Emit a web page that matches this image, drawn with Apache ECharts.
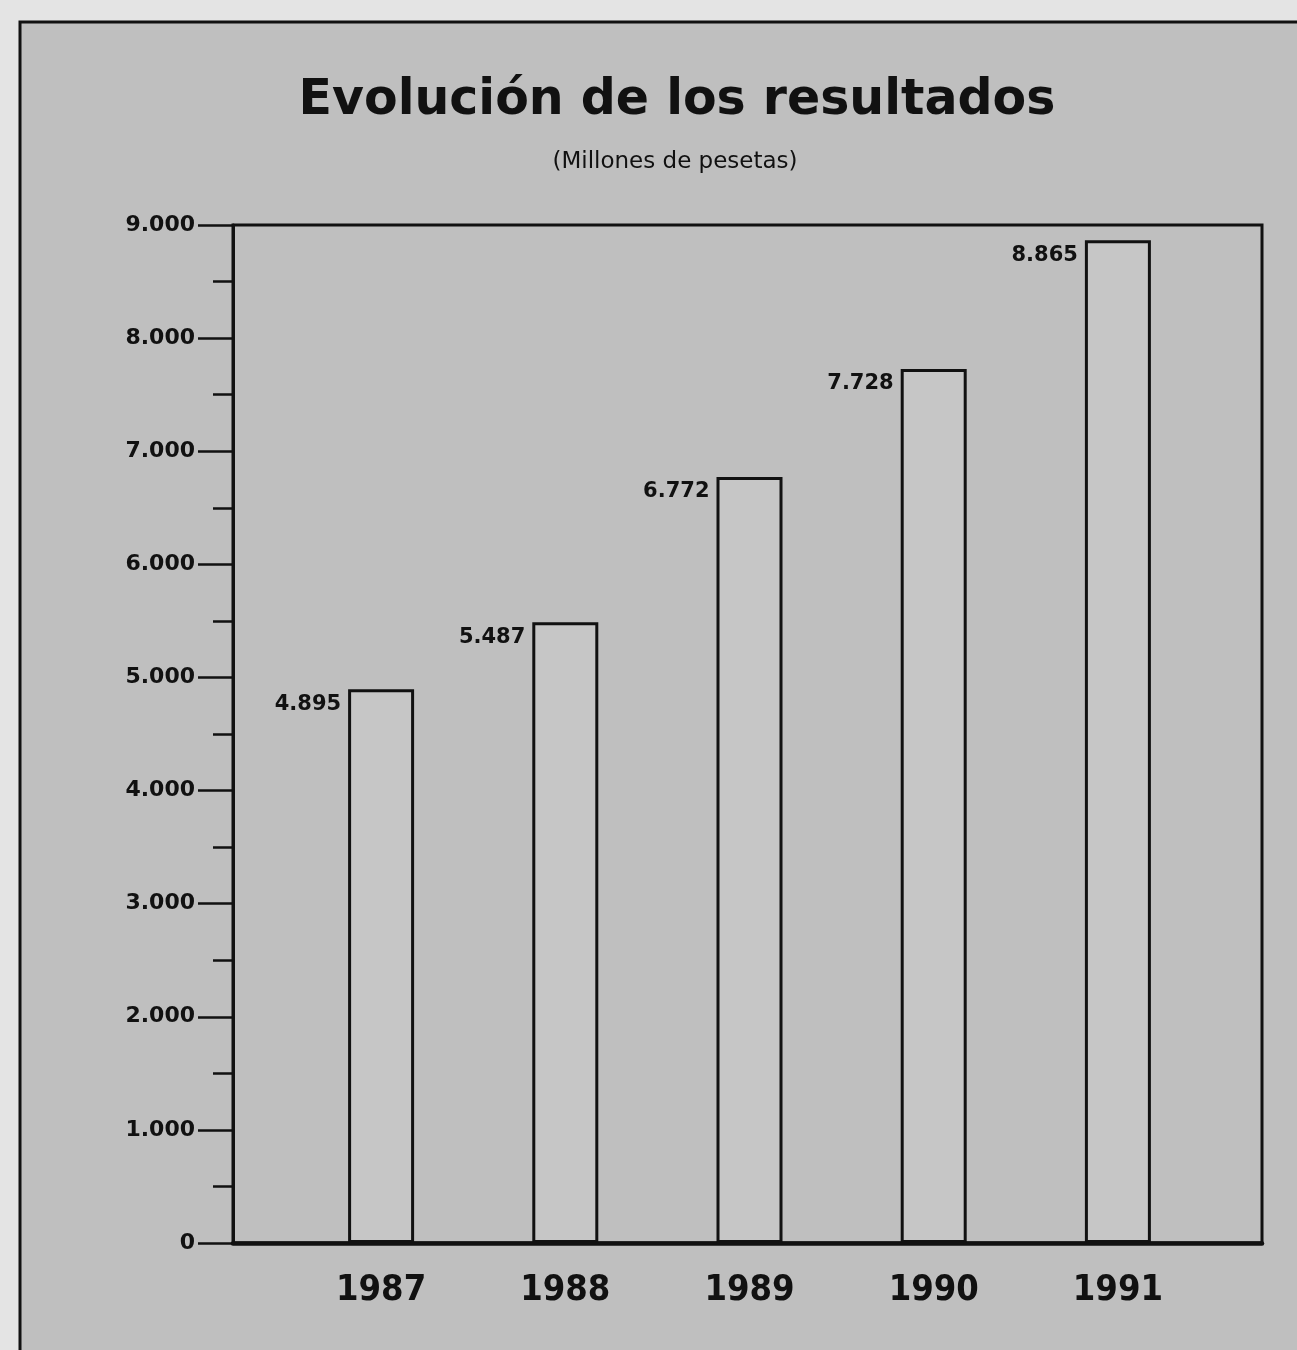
<!DOCTYPE html>
<html>
<head>
<meta charset="utf-8">
<title>Evolución de los resultados</title>
<script src="https://cdn.jsdelivr.net/npm/echarts@6/dist/echarts.min.js"></script>
<style>
  html, body { margin: 0; padding: 0; background: #e4e4e4; }
  #chart { width: 1297px; height: 1350px; }
</style>
</head>
<body>
<div id="chart"></div>
<script>
// data
const years = ['1987', '1988', '1989', '1990', '1991'];
const resultados = [4895, 5487, 6772, 7728, 8865];
const yTicks = [0, 9000, 1000]; // min, max, step

const titleText = 'Evolución de los resultados';
const subtitleText = '(Millones de pesetas)';

// spanish thousands separator
const fmt = v => {
  if (v < 1000) return String(v);
  const rest = String(v % 1000).padStart(3, '0');
  return Math.floor(v / 1000) + '.' + rest;
};

const ink = '#111';
const paper = '#bfbfbf';
const font = '"DejaVu Sans", sans-serif';

const chart = echarts.init(document.getElementById('chart'));

chart.setOption({
  backgroundColor: '#e4e4e4',
  animation: false,
  graphic: [
    {
      // outer frame of the box
      type: 'rect',
      z: -10,
      silent: true,
      shape: { x: 20, y: 22, width: 1320, height: 1360 },
      style: { fill: paper, stroke: ink, lineWidth: 3 }
    }
  ],
  title: [
    {
      text: titleText,
      left: 672,
      top: 72,
      textAlign: 'center',
      textStyle: { fontFamily: font, fontWeight: 'bold', fontSize: 49, color: ink }
    },
    {
      text: subtitleText,
      left: 670,
      top: 146,
      textAlign: 'center',
      textStyle: { fontFamily: font, fontWeight: 'normal', fontSize: 23, color: ink }
    }
  ],
  grid: [
    // the plot box with the value scale
    { left: 233, right: 35, top: 225, bottom: 107, show: true, borderColor: ink, borderWidth: 3 },
    // the bars sit on a narrower band inside the box
    { left: 289, right: 87, top: 225, bottom: 107 }
  ],
  xAxis: [
    {
      gridIndex: 0,
      type: 'value',
      min: 0,
      max: 1,
      axisLine: { show: true, lineStyle: { color: ink, width: 4.5 } },
      axisTick: { show: false },
      axisLabel: { show: false },
      splitLine: { show: false }
    },
    {
      gridIndex: 1,
      type: 'category',
      data: years,
      axisLine: { show: false },
      axisTick: { show: false },
      axisLabel: {
        margin: 30,
        fontFamily: '"DejaVu Sans Condensed", "DejaVu Sans", sans-serif',
        fontWeight: 'bold',
        fontSize: 36,
        color: ink
      }
    }
  ],
  yAxis: [
    {
      gridIndex: 0,
      type: 'value',
      min: yTicks[0],
      max: yTicks[1],
      interval: yTicks[2],
      axisLine: { show: true, lineStyle: { color: ink, width: 3 } },
      axisTick: { show: true, length: 35, lineStyle: { color: ink, width: 2.5 } },
      minorTick: { show: true, splitNumber: 2, length: 20, lineStyle: { color: ink, width: 2.5 } },
      splitLine: { show: false },
      axisLabel: {
        margin: 38,
        formatter: fmt,
        fontFamily: font,
        fontWeight: 'bold',
        fontSize: 22,
        color: ink
      }
    },
    { gridIndex: 1, type: 'value', min: yTicks[0], max: yTicks[1], show: false }
  ],
  series: [
    {
      type: 'bar',
      xAxisIndex: 1,
      yAxisIndex: 1,
      data: resultados,
      barWidth: 66,
      itemStyle: { color: '#c6c6c6', borderColor: ink, borderWidth: 3 },
      label: {
        show: true,
        position: [-7, 15],
        align: 'right',
        verticalAlign: 'middle',
        formatter: p => fmt(p.value),
        fontFamily: font,
        fontWeight: 'bold',
        fontSize: 21,
        color: ink
      }
    }
  ]
});
</script>
</body>
</html>
